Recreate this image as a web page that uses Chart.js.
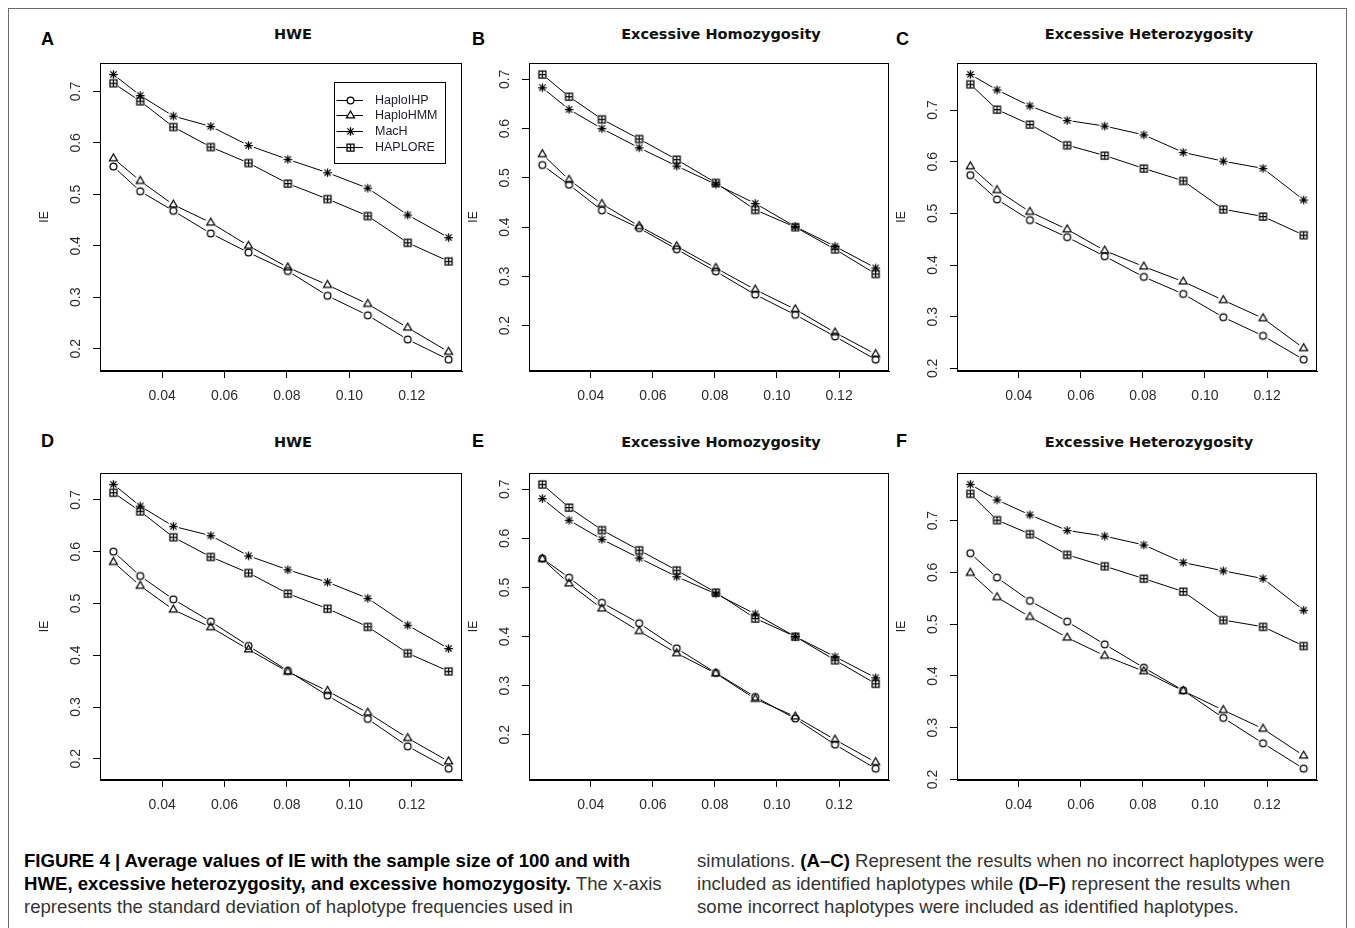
<!DOCTYPE html>
<html>
<head>
<meta charset="utf-8">
<title>Figure 4</title>
<script src="https://cdn.jsdelivr.net/npm/chart.js@4.4.1/dist/chart.umd.min.js"></script>
<style>
  body { margin: 0; width: 1355px; height: 928px; overflow: hidden; background: #fff; position: relative; font-family: "Liberation Sans", Arial, sans-serif; }
  #frame { position: absolute; left: 8px; top: 8px; width: 1337px; height: 960px; border: 1px solid #6b6b6b; }
  canvas.panel { position: absolute; }
  .letter { position: absolute; font: bold 18px/18px "Liberation Sans", Arial, sans-serif; color: #000; }
  .title { position: absolute; font: bold 14.5px/14.5px "DejaVu Sans", Verdana, sans-serif; color: #111; transform: translateX(-50%); white-space: nowrap; }
  .caption { position: absolute; top: 848.5px; font-size: 18.6px; line-height: 23px; color: #333; white-space: nowrap; }
  .caption b { color: #000; }
</style>
</head>
<body>
<div id="frame"></div>
<div class="caption" style="left:24px">
  <b>FIGURE 4 | Average values of IE with the sample size of 100 and with</b><br>
  <b>HWE, excessive heterozygosity, and excessive homozygosity.</b> The x-axis<br>
  represents the standard deviation of haplotype frequencies used in
</div>
<div class="caption" style="left:697px">
  simulations. <b>(A–C)</b> Represent the results when no incorrect haplotypes were<br>
  included as identified haplotypes while <b>(D–F)</b> represent the results when<br>
  some incorrect haplotypes were included as identified haplotypes.
</div>
<script>
// x axis: standard deviation of haplotype frequencies
const sdValues = [0.0244, 0.0330, 0.0436, 0.0556, 0.0677, 0.0803, 0.0930, 0.1059, 0.1187, 0.1318];
const xTickValues = [0.04, 0.06, 0.08, 0.10, 0.12];
const yTickValues = [0.2, 0.3, 0.4, 0.5, 0.6, 0.7];
const methodNames = ['HaploIHP', 'HaploHMM', 'MacH', 'HAPLORE'];

// A - HWE
const aIHP = [0.554, 0.506, 0.468, 0.424, 0.387, 0.351, 0.303, 0.265, 0.218, 0.179];
const aHMM = [0.570, 0.526, 0.480, 0.445, 0.400, 0.358, 0.324, 0.287, 0.241, 0.194];
const aMacH = [0.733, 0.692, 0.652, 0.632, 0.595, 0.568, 0.542, 0.512, 0.460, 0.416];
const aHAPLORE = [0.716, 0.681, 0.631, 0.592, 0.561, 0.521, 0.491, 0.458, 0.406, 0.370];
// B - excessive homozygosity
const bIHP = [0.526, 0.486, 0.434, 0.398, 0.355, 0.310, 0.263, 0.222, 0.178, 0.131];
const bHMM = [0.548, 0.496, 0.447, 0.402, 0.361, 0.317, 0.273, 0.233, 0.186, 0.142];
const bMacH = [0.683, 0.639, 0.600, 0.561, 0.524, 0.487, 0.448, 0.401, 0.361, 0.317];
const bHAPLORE = [0.710, 0.665, 0.619, 0.579, 0.537, 0.490, 0.435, 0.400, 0.355, 0.305];
// C - excessive heterozygosity
const cIHP = [0.574, 0.527, 0.487, 0.454, 0.417, 0.377, 0.344, 0.299, 0.263, 0.217];
const cHMM = [0.591, 0.545, 0.503, 0.469, 0.428, 0.397, 0.368, 0.332, 0.297, 0.239];
const cMacH = [0.769, 0.739, 0.708, 0.680, 0.669, 0.652, 0.618, 0.601, 0.587, 0.526];
const cHAPLORE = [0.750, 0.701, 0.672, 0.632, 0.612, 0.587, 0.563, 0.508, 0.494, 0.458];
// D - HWE, with incorrect haplotypes
const dIHP = [0.600, 0.553, 0.508, 0.465, 0.418, 0.370, 0.322, 0.277, 0.224, 0.181];
const dHMM = [0.580, 0.534, 0.488, 0.454, 0.411, 0.368, 0.331, 0.289, 0.240, 0.195];
const dMacH = [0.730, 0.688, 0.649, 0.631, 0.592, 0.565, 0.541, 0.510, 0.458, 0.413];
const dHAPLORE = [0.714, 0.678, 0.628, 0.590, 0.559, 0.519, 0.490, 0.455, 0.404, 0.369];
// E - excessive homozygosity, with incorrect haplotypes
const eIHP = [0.559, 0.520, 0.469, 0.427, 0.376, 0.326, 0.277, 0.233, 0.180, 0.131];
const eHMM = [0.558, 0.508, 0.457, 0.411, 0.366, 0.325, 0.273, 0.237, 0.190, 0.144];
const eMacH = [0.681, 0.637, 0.598, 0.560, 0.522, 0.487, 0.446, 0.400, 0.359, 0.316];
const eHAPLORE = [0.710, 0.663, 0.617, 0.576, 0.535, 0.490, 0.437, 0.400, 0.352, 0.304];
// F - excessive heterozygosity, with incorrect haplotypes
const fIHP = [0.637, 0.590, 0.545, 0.505, 0.461, 0.416, 0.372, 0.319, 0.270, 0.221];
const fHMM = [0.599, 0.552, 0.514, 0.474, 0.439, 0.409, 0.371, 0.334, 0.298, 0.246];
const fMacH = [0.770, 0.740, 0.711, 0.681, 0.670, 0.653, 0.619, 0.603, 0.588, 0.527];
const fHAPLORE = [0.752, 0.701, 0.674, 0.634, 0.612, 0.588, 0.563, 0.508, 0.495, 0.458];

const panels = [
  { letter: 'A', title: 'HWE', series: [aIHP, aHMM, aMacH, aHAPLORE], box: [100, 63, 362, 308], legend: true },
  { letter: 'B', title: 'Excessive Homozygosity', series: [bIHP, bHMM, bMacH, bHAPLORE], box: [529, 63, 360, 308] },
  { letter: 'C', title: 'Excessive Heterozygosity', series: [cIHP, cHMM, cMacH, cHAPLORE], box: [957, 63, 360, 308] },
  { letter: 'D', title: 'HWE', series: [dIHP, dHMM, dMacH, dHAPLORE], box: [100, 473, 362, 307] },
  { letter: 'E', title: 'Excessive Homozygosity', series: [eIHP, eHMM, eMacH, eHAPLORE], box: [529, 473, 360, 307] },
  { letter: 'F', title: 'Excessive Heterozygosity', series: [fIHP, fHMM, fMacH, fHAPLORE], box: [957, 473, 360, 307] },
];

const FONT = '"Liberation Sans", Arial, sans-serif';

//R style axis range: data range plus 4% each side
const rRange = (vals) => {
  const lo = Math.min(...vals), hi = Math.max(...vals);
  const d = (hi - lo) * 0.04;
  return [lo - d, hi + d];
};

//open R symbols: pch 1, 2, 8, 12
const makeMarker = (kind, halo) => {
  const c = document.createElement('canvas');
  c.width = 15; c.height = 15;
  const g = c.getContext('2d');
  g.translate(7.5, 7.5);
  if (halo) {
    g.fillStyle = '#fff';
    g.beginPath(); g.arc(0, 0, 5.6, 0, Math.PI * 2); g.fill();
    return c;
  }
  g.strokeStyle = '#000';
  g.lineWidth = 1.25;
  g.beginPath();
  if (kind === 'circle') {
    g.arc(0, 0, 3.4, 0, Math.PI * 2);
  } else if (kind === 'triangle') {
    g.moveTo(0, -4.5); g.lineTo(4, 2.4); g.lineTo(-4, 2.4); g.closePath();
  } else if (kind === 'star') {
    g.moveTo(0, -4.3); g.lineTo(0, 4.3);
    g.moveTo(-4.3, 0); g.lineTo(4.3, 0);
    g.moveTo(-3.1, -3.1); g.lineTo(3.1, 3.1);
    g.moveTo(-3.1, 3.1); g.lineTo(3.1, -3.1);
  } else {
    g.rect(-3.5, -3.5, 7, 7);
    g.moveTo(0, -3.5); g.lineTo(0, 3.5);
    g.moveTo(-3.5, 0); g.lineTo(3.5, 0);
  }
  g.stroke();
  return c;
};

const markers = ['circle', 'triangle', 'star', 'square'].map(k => makeMarker(k, false));
const haloMark = makeMarker('circle', true);

//the full box round the plot region
const boxPlugin = {
  id: 'plotBox',
  afterDatasetsDraw(chart) {
    const { ctx, chartArea: a } = chart;
    ctx.save();
    ctx.strokeStyle = '#000';
    ctx.lineWidth = 1;
    ctx.strokeRect(Math.round(a.left) + 0.5, Math.round(a.top) + 0.5, Math.round(a.right - a.left) - 1, Math.round(a.bottom - a.top) - 1);
    ctx.restore();
  }
};

//legend drawn like R's legend() inside the plot
const rLegendPlugin = {
  id: 'rLegend',
  afterDraw(chart, args, opts) {
    if (!opts.show) return;
    const { ctx, chartArea: a } = chart;
    const left = Math.round(a.right - 128) + 0.5;
    const top = Math.round(a.top + 19) + 0.5;
    ctx.save();
    ctx.fillStyle = '#fff';
    ctx.fillRect(left, top, 111, 81);
    ctx.strokeStyle = '#000';
    ctx.lineWidth = 1;
    ctx.strokeRect(left, top, 111, 81);
    ctx.font = '12.5px ' + FONT;
    ctx.textBaseline = 'middle';
    methodNames.forEach((name, i) => {
      const y = Math.round(top + 17 + i * 15.7) + 0.5;
      ctx.beginPath();
      ctx.moveTo(left + 2, y);
      ctx.lineTo(left + 28.5, y);
      ctx.stroke();
      ctx.fillStyle = '#fff';
      ctx.beginPath(); ctx.arc(left + 16, y, 3.2, 0, Math.PI * 2); ctx.fill();
      ctx.drawImage(markers[i], left + 16 - 7.5, y - 7.5);
      ctx.fillStyle = '#1c1c2c';
      ctx.fillText(name, left + 40.5, y + 0.5);
    });
    ctx.restore();
  }
};

const [xMin, xMax] = rRange(sdValues);

panels.forEach((p) => {
  const [bx, by, bw, bh] = p.box;

  //panel letter and title
  const letter = document.createElement('div');
  letter.className = 'letter';
  letter.textContent = p.letter;
  letter.style.left = (bx < 200 ? 41 : bx < 600 ? 472 : 896) + 'px';
  letter.style.top = (by < 200 ? 30 : 432) + 'px';
  document.body.appendChild(letter);

  const title = document.createElement('div');
  title.className = 'title';
  title.textContent = p.title;
  title.style.left = (bx + bw / 2 + 12) + 'px';
  title.style.top = (by < 200 ? 27 : 434.5) + 'px';
  document.body.appendChild(title);

  const canvas = document.createElement('canvas');
  canvas.className = 'panel';
  canvas.width = bw + 78;
  canvas.height = bh + 14 + 45;
  canvas.style.left = (bx - 70) + 'px';
  canvas.style.top = (by - 14) + 'px';
  document.body.appendChild(canvas);

  const [yMin, yMax] = rRange([].concat(...p.series));

  const datasets = [];
  p.series.forEach((vals, i) => {
    const pts = sdValues.map((x, j) => ({ x: x, y: vals[j] }));
    //line with a white gap round each point (type = "b")
    datasets.push({
      label: methodNames[i],
      data: pts,
      order: 2,
      borderColor: '#000',
      borderWidth: 1,
      tension: 0,
      pointStyle: haloMark,
      pointRadius: 5,
    });
    //open symbols on top
    datasets.push({
      label: methodNames[i] + ' points',
      data: pts,
      order: 1,
      showLine: false,
      pointStyle: markers[i],
      pointRadius: 5,
    });
  });

  new Chart(canvas, {
    type: 'line',
    data: { datasets: datasets },
    plugins: [boxPlugin, rLegendPlugin],
    options: {
      responsive: false,
      animation: false,
      events: [],
      layout: { padding: { left: 0, right: 8, top: 14, bottom: 0 } },
      plugins: {
        legend: { display: false },
        tooltip: { enabled: false },
        rLegend: { show: !!p.legend },
      },
      scales: {
        x: {
          type: 'linear',
          min: xMin,
          max: xMax,
          afterBuildTicks: (s) => { s.ticks = xTickValues.map(v => ({ value: v })); },
          afterFit: (s) => { s.height = 45; s.paddingLeft = 0; s.paddingRight = 0; },
          ticks: {
            callback: (v) => Number(v).toFixed(2),
            font: { family: FONT, size: 14 },
            color: '#2b2b2b',
            padding: 10,
            maxRotation: 0,
            autoSkip: false,
          },
          grid: { drawOnChartArea: false, tickLength: 7, color: '#000' },
          border: { color: '#000' },
        },
        y: {
          type: 'linear',
          min: yMin,
          max: yMax,
          afterBuildTicks: (s) => { s.ticks = yTickValues.map(v => ({ value: v })); },
          afterFit: (s) => { s.width = 70; s.paddingTop = 0; s.paddingBottom = 0; },
          ticks: {
            callback: (v) => Number(v).toFixed(1),
            font: { family: FONT, size: 14 },
            color: '#2b2b2b',
            minRotation: 90,
            maxRotation: 90,
            crossAlign: 'center',
            padding: 7,
            autoSkip: false,
          },
          grid: { drawOnChartArea: false, tickLength: 7, color: '#000' },
          border: { color: '#000' },
          title: {
            display: true,
            text: 'IE',
            font: { family: FONT, size: 12 },
            color: '#222',
            padding: { top: 7, bottom: 0 },
          },
        },
      },
    },
  });
});
</script>
</body>
</html>
